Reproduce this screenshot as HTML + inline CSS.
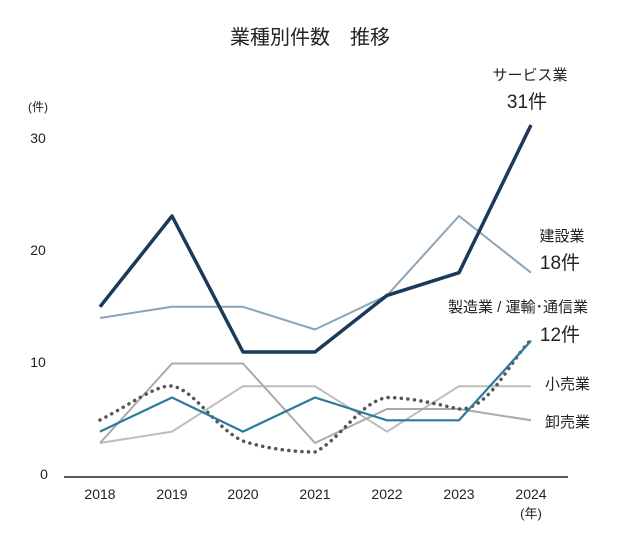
<!DOCTYPE html>
<html><head><meta charset="utf-8"><style>
body{margin:0;background:#fff;}
text{font-family:"Liberation Sans","Noto Sans CJK JP",sans-serif;fill:#222;}
</style></head><body>
<svg width="635" height="531" viewBox="0 0 635 531" xmlns="http://www.w3.org/2000/svg">
<text x="310" y="44" font-size="20" text-anchor="middle">業種別件数　推移</text>
<text x="38" y="111" font-size="12" text-anchor="middle">(件)</text>
<g font-size="14" text-anchor="middle">
<text x="38" y="143">30</text><text x="38" y="255">20</text><text x="38" y="367">10</text><text x="44" y="479">0</text>
<text x="100" y="499">2018</text><text x="172" y="499">2019</text><text x="243" y="499">2020</text><text x="315" y="499">2021</text><text x="387" y="499">2022</text><text x="459" y="499">2023</text><text x="531" y="499">2024</text>
<text x="531" y="518" font-size="13">(年)</text>
</g>
<line x1="64" y1="477" x2="568" y2="477" stroke="#222" stroke-width="1.5"/>
<g fill="none" stroke-linejoin="round">
<polyline stroke="#bdbdbd" stroke-width="2" points="100,443 172,431.6 243,386.2 315,386.2 387,431.6 459,386.2 531,386.2"/>
<polyline stroke="#aaaaaa" stroke-width="2" points="100,443 172,363.5 243,363.5 315,443 387,409 459,409 531,420.3"/>
<polyline stroke="#8aa5b8" stroke-width="2" points="100,318 172,306.8 243,306.8 315,329.5 387,295.4 459,216 531,272.7"/>
<path stroke="#555" stroke-width="3.5" stroke-dasharray="0.1,6.5" stroke-linecap="round" d="M100,420 C130,405 155,385 172,386 C195,390 215,428 243,441 C270,450 300,452 315,452 C340,440 360,402 387,397.5 C415,398 440,405 459,409 C490,410 510,360 531,340"/>
<polyline stroke="#2a7a9a" stroke-width="2.2" points="100,431.6 172,397.5 243,431.6 315,397.5 387,420.3 459,420.3 531,340.8"/>
<polyline stroke="#1a3a5c" stroke-width="3.5" points="100,306.8 172,216 243,352 315,352 387,295.4 459,272.7 531,125"/>
</g>
<g font-size="15">
<text x="530" y="80" text-anchor="middle">サービス業</text>
<text x="527" y="108" font-size="19" text-anchor="middle">31件</text>
<text x="562" y="241" text-anchor="middle">建設業</text>
<text x="560" y="269" font-size="19" text-anchor="middle">18件</text>
<text x="518" y="312" text-anchor="middle">製造業 / 運輸･通信業</text>
<text x="560" y="341" font-size="19" text-anchor="middle">12件</text>
<text x="545" y="389">小売業</text>
<text x="545" y="427">卸売業</text>
</g>
</svg>
</body></html>
